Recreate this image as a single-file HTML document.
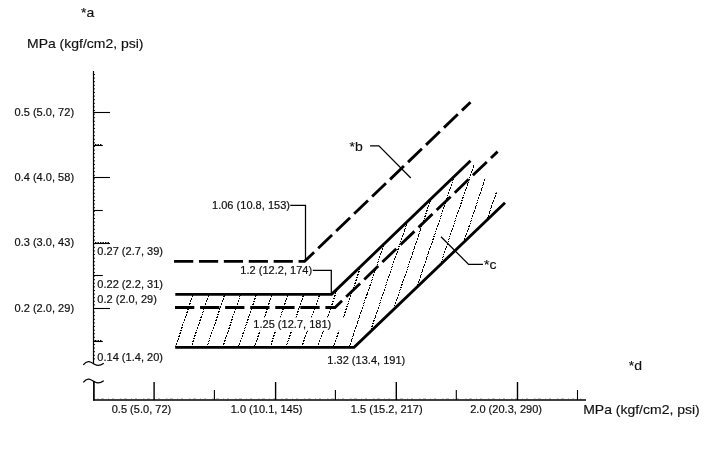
<!DOCTYPE html>
<html><head><meta charset="utf-8"><title>chart</title>
<style>
html,body{margin:0;padding:0;background:#fff;}
body{width:714px;height:474px;overflow:hidden;}
svg{display:block;}
text{font-family:"Liberation Sans",Arial,sans-serif;fill:#111;stroke:#111;stroke-width:0.2px;}
.s{font-size:11px;letter-spacing:0.02px;}
.b{font-size:12.3px;stroke-width:0.14px;}
</style></head><body>
<svg width="714" height="474" viewBox="0 0 714 474">
<rect width="714" height="474" fill="#fff"/>

<g stroke="#000" fill="none">
<line x1="93.5" y1="71" x2="93.5" y2="363" stroke-width="1.2"/>
<line x1="94.5" y1="74" x2="94.5" y2="360" stroke-width="1" stroke-dasharray="1 2.6" opacity="0.9"/>
<line x1="93.9" y1="381" x2="93.9" y2="400.5" stroke-width="1.7"/>
<path d="M83.3,364.8 C85,362.5 87,361.3 89,361.6 C91.5,362 93,363.5 95,364.5 C97.5,365.8 100.5,365.5 103.8,363.2" stroke-width="1.3"/>
<path d="M83.3,382.3 C85,380.0 87,378.8 89,379.1 C91.5,379.5 93,381.0 95,382.0 C97.5,383.3 100.5,383.0 103.8,380.7" stroke-width="1.3"/>
<line x1="93" y1="399.9" x2="586" y2="399.9" stroke-width="1.5"/>
<line x1="97" y1="398.7" x2="582" y2="398.7" stroke-width="0.8" stroke-dasharray="1.5 2.5 3 4 1 3 2 6" opacity="0.35"/>
<line x1="93" y1="112.5" x2="110" y2="112.5" stroke-width="1.1"/>
<line x1="93" y1="145.5" x2="102.8" y2="145.5" stroke-width="1.1"/>
<line x1="95" y1="144.5" x2="102.3" y2="144.5" stroke-width="1" stroke-dasharray="1.4 1.1"/>
<line x1="93" y1="177.5" x2="110" y2="177.5" stroke-width="1.1"/>
<line x1="93" y1="210.5" x2="102.8" y2="210.5" stroke-width="1.1"/>
<line x1="93" y1="243.5" x2="110" y2="243.5" stroke-width="1.1"/>
<line x1="95" y1="242.5" x2="109.5" y2="242.5" stroke-width="1" stroke-dasharray="1.4 1.1"/>
<line x1="93" y1="275.5" x2="102.8" y2="275.5" stroke-width="1.1"/>
<line x1="93" y1="308.5" x2="110" y2="308.5" stroke-width="1.1"/>
<line x1="93" y1="341.5" x2="102.8" y2="341.5" stroke-width="1.1"/>
<line x1="95" y1="340.5" x2="102.3" y2="340.5" stroke-width="1" stroke-dasharray="1.4 1.1"/>
<line x1="154.1" y1="382" x2="154.1" y2="400" stroke-width="1.4"/>
<line x1="214.4" y1="390" x2="214.4" y2="400" stroke-width="1.1"/>
<line x1="275.6" y1="382" x2="275.6" y2="400" stroke-width="1.4"/>
<line x1="335.4" y1="390" x2="335.4" y2="400" stroke-width="1.1"/>
<line x1="396.3" y1="382" x2="396.3" y2="400" stroke-width="1.4"/>
<line x1="456.3" y1="390" x2="456.3" y2="400" stroke-width="1.1"/>
<line x1="517.5" y1="382" x2="517.5" y2="400" stroke-width="1.4"/>
<line x1="577.5" y1="390" x2="577.5" y2="400" stroke-width="1.1"/>
</g>
<defs><clipPath id="hc"><polygon points="175.6,294.2 332,294.2 470.5,160.8 505,202.8 354,347.3 175.6,347.3"/></clipPath></defs>
<g clip-path="url(#hc)" stroke="#000" stroke-width="1.2" stroke-dasharray="1.8 1" fill="none" shape-rendering="crispEdges">
<line x1="175.25" y1="347.3" x2="263.13" y2="87.30"/>
<line x1="191.06" y1="347.3" x2="278.94" y2="87.30"/>
<line x1="206.87" y1="347.3" x2="294.75" y2="87.30"/>
<line x1="222.68" y1="347.3" x2="310.56" y2="87.30"/>
<line x1="238.49" y1="347.3" x2="326.37" y2="87.30"/>
<line x1="254.30" y1="347.3" x2="342.18" y2="87.30"/>
<line x1="270.11" y1="347.3" x2="357.99" y2="87.30"/>
<line x1="285.92" y1="347.3" x2="373.80" y2="87.30"/>
<line x1="301.73" y1="347.3" x2="389.61" y2="87.30"/>
<line x1="317.54" y1="347.3" x2="405.42" y2="87.30"/>
<line x1="333.35" y1="347.3" x2="421.23" y2="87.30"/>
<line x1="349.16" y1="347.3" x2="437.04" y2="87.30" stroke-width="1" stroke-dasharray="1.9 0.8"/>
<line x1="364.97" y1="347.3" x2="452.85" y2="87.30" stroke-width="1" stroke-dasharray="1.9 0.8"/>
<line x1="380.78" y1="347.3" x2="468.66" y2="87.30" stroke-width="1" stroke-dasharray="1.9 0.8"/>
<line x1="396.59" y1="347.3" x2="484.47" y2="87.30" stroke-width="1" stroke-dasharray="1.9 0.8"/>
<line x1="412.40" y1="347.3" x2="500.28" y2="87.30" stroke-width="1" stroke-dasharray="1.9 0.8"/>
<line x1="428.21" y1="347.3" x2="516.09" y2="87.30" stroke-width="1" stroke-dasharray="1.9 0.8"/>
<line x1="444.02" y1="347.3" x2="531.90" y2="87.30" stroke-width="1" stroke-dasharray="1.9 0.8"/>
<line x1="459.83" y1="347.3" x2="547.71" y2="87.30" stroke-width="1" stroke-dasharray="1.9 0.8"/>
</g>
<rect x="251.5" y="317.3" width="92.5" height="13.5" fill="#fff"/>
<g stroke="#000" fill="none" stroke-width="2.85" stroke-linejoin="miter">
<polyline points="174.05,261.35 304.6,261.35 470.5,102.2" stroke-dasharray="19.2 5.7"/>
<polyline points="175.3,294.4 331.6,294.4 470.5,160.8"/>
<polyline points="175,307.5 335,307.5 497.6,151.6" stroke-dasharray="19.3 5.77"/>
<polyline points="175.2,347.4 354.1,347.4 505,202.8"/>
</g>
<g stroke="#000" fill="none" stroke-width="1.25">
<polyline points="290.3,205.3 305.5,205.3 305.5,260.5"/>
<polyline points="312.8,270.4 331.3,270.4 331.3,294"/>
<polyline points="370.1,145.9 378.9,145.9 410.8,178"/>
<polyline points="441,236.7 468.6,264.4 483,264.4"/>
</g>
<text transform="translate(81,16.5) scale(1.138,1)" class="b">*a</text>
<text transform="translate(27,48.3) scale(1.138,1)" class="b">MPa (kgf/cm2, psi)</text>
<text x="14.5" y="115.5" class="s">0.5 (5.0, 72)</text>
<text x="14.5" y="180.7" class="s">0.4 (4.0, 58)</text>
<text x="14.5" y="246.4" class="s">0.3 (3.0, 43)</text>
<text x="14.5" y="311.9" class="s">0.2 (2.0, 29)</text>
<text x="97.3" y="255" class="s">0.27 (2.7, 39)</text>
<text x="97.3" y="288.2" class="s">0.22 (2.2, 31)</text>
<text x="97.3" y="303" class="s">0.2 (2.0, 29)</text>
<text x="97.3" y="360.6" class="s">0.14 (1.4, 20)</text>
<text x="212" y="208.6" class="s">1.06 (10.8, 153)</text>
<text x="240.3" y="273.8" class="s">1.2 (12.2, 174)</text>
<text x="253.3" y="328" class="s">1.25 (12.7, 181)</text>
<text x="327.3" y="363.5" class="s">1.32 (13.4, 191)</text>
<text transform="translate(349.5,150.8) scale(1.138,1)" class="b">*b</text>
<text transform="translate(484,268.9) scale(1.138,1)" class="b">*c</text>
<text transform="translate(628.8,369.7) scale(1.138,1)" class="b">*d</text>
<text x="111.7" y="413.4" class="s">0.5 (5.0, 72)</text>
<text x="230.7" y="413.4" class="s">1.0 (10.1, 145)</text>
<text x="350.8" y="413.4" class="s">1.5 (15.2, 217)</text>
<text x="470.2" y="413.4" class="s">2.0 (20.3, 290)</text>
<text transform="translate(583.2,414) scale(1.138,1)" class="b">MPa (kgf/cm2, psi)</text>
</svg></body></html>
